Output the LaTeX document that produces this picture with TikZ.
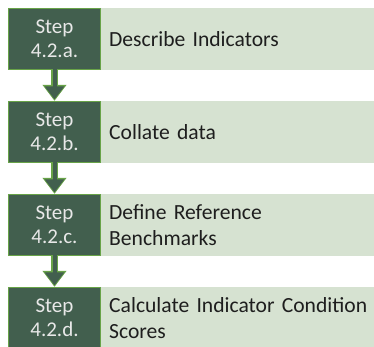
\documentclass[tikz,border=0pt]{standalone}
\usepackage{fontspec}
\setmainfont{Carlito}
\usepackage{xcolor}
\usetikzlibrary{arrows.meta}
\definecolor{stepDark}{RGB}{66, 95, 78}
\definecolor{stepGreen}{RGB}{104, 163, 72}
\definecolor{stepLight}{RGB}{214, 226, 209}
\definecolor{stepText}{RGB}{232, 232, 232}
\definecolor{descText}{RGB}{30, 30, 30}

\begin{document}
\begin{tikzpicture}[x=1pt, y=1pt]
    \tikzstyle{stepbox} = [draw=stepGreen, line width=1.3pt, fill=stepDark, text=stepText, minimum width=92pt, minimum height=61pt, inner sep=0pt, align=center, font=\fontsize{21}{24}\selectfont]
    \tikzstyle{descbox} = [fill=stepLight, text=descText, minimum width=273pt, minimum height=62pt, text width=257pt, inner xsep=8pt, inner ysep=0pt, align=left, anchor=west, font=\fontsize{21.6}{26}\selectfont]
    \useasboundingbox (0,0) rectangle (374,-346);
    \node[descbox] (d1) at (101,-39) {Describe Indicators};
    \node[descbox] (d2) at (101,-132) {Collate data};
    \node[descbox] (d3) at (101,-225) {Define Reference\\Benchmarks};
    \node[descbox] (d4) at (101,-318) {\mbox{Calculate Indicator Condition}\\Scores};
    \node[stepbox] (s1) at (54.5,-39) {Step\\4.2.a.};
    \node[stepbox] (s2) at (54.5,-132) {Step\\4.2.b.};
    \node[stepbox] (s3) at (54.5,-225) {Step\\4.2.c.};
    \node[stepbox] (s4) at (54.5,-318) {Step\\4.2.d.};
    % block arrows: green outline first, dark core on top
    \foreach \a/\b in {s1/s2, s2/s3, s3/s4} {
        \draw[stepGreen, line width=7pt, -{Triangle[width=23pt, length=16pt]}] (\a.south) -- (\b.north);
        \draw[stepDark, line width=4pt, shorten >=1.6pt, -{Triangle[width=19pt, length=13pt]}] ([yshift=1pt]\a.south) -- (\b.north);
    }
\end{tikzpicture}
\end{document}
